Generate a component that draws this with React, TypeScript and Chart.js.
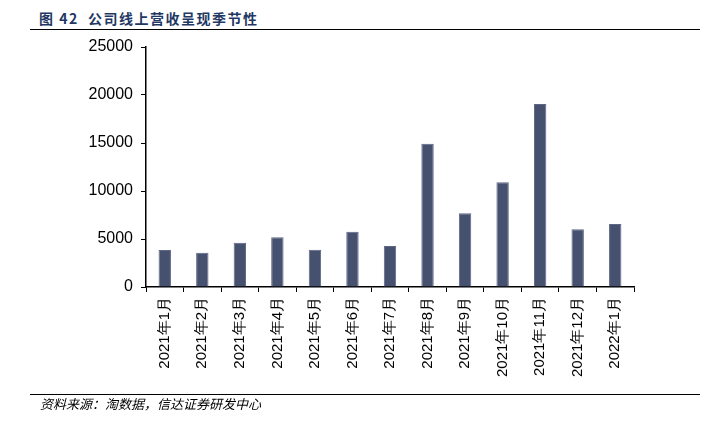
import React, { useEffect, useRef } from "react";
import { Chart, registerables } from "chart.js";

Chart.register(...registerables);

const categories = [
  "2021年1月", "2021年2月", "2021年3月", "2021年4月", "2021年5月", "2021年6月",
  "2021年7月", "2021年8月", "2021年9月", "2021年10月", "2021年11月", "2021年12月", "2022年1月",
];
const revenue = [3850, 3580, 4620, 5170, 3890, 5760, 4280, 14930, 7680, 10900, 19060, 6010, 6560];
const yMin = 0;
const yMax = 25000;
const yStep = 5000;

const titleText = "图 42  公司线上营收呈现季节性";
const sourceText = "资料来源：淘数据，信达证券研发中心";

export default function App() {
  const ref = useRef<HTMLCanvasElement | null>(null);
  useEffect(() => {
    if (!ref.current) return;
    const font = "'Liberation Sans', Arial, sans-serif";
    const chart = new Chart(ref.current, {
      type: "bar",
      data: {
        labels: categories,
        datasets: [
          {
            data: revenue,
            backgroundColor: "#46506F",
            borderColor: "#5d6784",
            borderWidth: { left: 1, right: 1, top: 1, bottom: 0 },
            barPercentage: 0.33,
            categoryPercentage: 1,
          },
        ],
      },
      options: {
        animation: false,
        responsive: false,
        maintainAspectRatio: false,
        layout: { padding: { left: 80, top: 47, right: 70, bottom: 0 } },
        plugins: { legend: { display: false }, tooltip: { enabled: false }, title: { display: false } },
        scales: {
          x: {
            offset: true,
            grid: {
              display: true,
              drawOnChartArea: false,
              drawTicks: true,
              tickLength: 5,
              offset: true,
              color: "#000",
              lineWidth: 1,
            },
            border: { display: true, color: "#000", width: 1.5 },
            ticks: {
              minRotation: 90,
              maxRotation: 90,
              autoSkip: false,
              padding: 5,
              color: "#000",
              font: { family: font, size: 15 },
            },
            afterFit: (s: any) => {
              s.height = 140;
            },
          },
          y: {
            min: yMin,
            max: yMax,
            grid: {
              display: true,
              drawOnChartArea: false,
              drawTicks: true,
              tickLength: 5,
              color: "#000",
            },
            border: { display: true, color: "#000", width: 1.5 },
            ticks: {
              stepSize: yStep,
              padding: 8,
              color: "#000",
              font: { family: font, size: 16 },
              callback: (v: any) => String(v),
            },
            afterFit: (s: any) => {
              s.width = 66;
            },
          },
        },
      },
    });
    return () => chart.destroy();
  }, []);

  return (
    <div style={{ position: "fixed", left: 0, top: 0, width: 704, height: 427, background: "#fff", overflow: "hidden" }}>
      <div
        style={{
          position: "absolute",
          left: 39,
          top: 8,
          fontFamily: "'Noto Sans CJK SC', 'Liberation Sans', sans-serif",
          fontWeight: 700,
          fontSize: 14,
          letterSpacing: 1.5,
          color: "#1F3864",
          whiteSpace: "pre",
          lineHeight: "20px",
        }}
      >
        {titleText}
      </div>
      <div style={{ position: "absolute", left: 30, top: 29, width: 670, height: 1, background: "#000" }} />
      <canvas ref={ref} width={704} height={427} style={{ position: "absolute", left: 0, top: 0 }} />
      <div style={{ position: "absolute", left: 30, top: 394, width: 670, height: 1, background: "#000" }} />
      <div
        style={{
          position: "absolute",
          left: 40,
          top: 396,
          fontFamily: "'Noto Sans CJK SC', sans-serif",
          fontStyle: "italic",
          fontSize: 13,
          color: "#000",
          whiteSpace: "pre",
          lineHeight: "16px",
        }}
      >
        {sourceText}
      </div>
    </div>
  );
}
